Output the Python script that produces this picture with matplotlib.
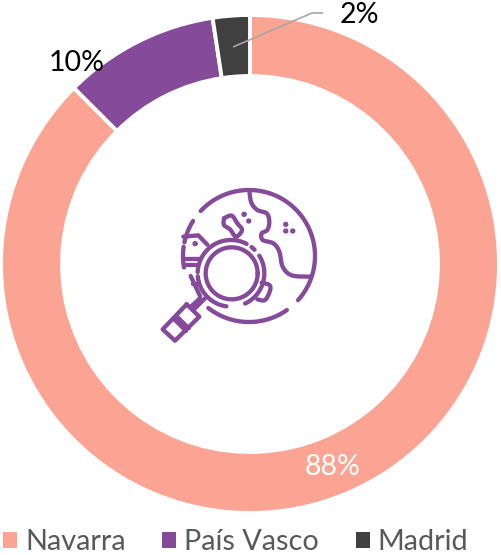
import numpy as np
import matplotlib
matplotlib.use("Agg")
import matplotlib.pyplot as plt

categories = ["Navarra", "País Vasco", "Madrid"]
values = [87.5, 10.1, 2.4]
labels = ["88%", "10%", "2%"]
colors = ["#FBA493", "#854A9A", "#404040"]

W, H = 501, 555
plt.rcParams["font.family"] = ["Lato", "DejaVu Sans"]
fig = plt.figure(figsize=(W / 100, H / 100), dpi=100)
ax = fig.add_axes([0, 0, 1, 1])


def Y(py):
    return H - py


wedges, _ = ax.pie(values, colors=colors, startangle=90, counterclock=False,
                   center=(250, Y(264)), radius=249,
                   wedgeprops=dict(width=61, edgecolor="white", linewidth=2.8))
ax.set_xlim(0, W)
ax.set_ylim(0, H)
ax.set_aspect("auto")
ax.axis("off")

# data labels
ax.text(333, Y(467), labels[0], color="white", fontsize=20.5, ha="center", va="center")
ax.text(77, Y(63), labels[1], color="black", fontsize=20.5, ha="center", va="center")
ax.text(359, Y(15), labels[2], color="black", fontsize=20.5, ha="center", va="center")
ax.plot([233, 312, 323], [Y(47), Y(13), Y(13)], color="#A6A6A6", lw=1.2,
        solid_capstyle="butt", zorder=5)

# legend
leg = ax.legend(wedges, categories, ncols=3, loc="lower left",
                bbox_to_anchor=(3 / W, 0.0), bbox_transform=ax.transAxes,
                frameon=False, fontsize=20.8, labelcolor="#595959",
                handlelength=0.48, handleheight=0.48, handletextpad=0.28,
                columnspacing=1.27, borderpad=0, borderaxespad=0)
for h in leg.legend_handles:
    h.set_edgecolor("none")
    h.set_linewidth(0)

# magnifier-over-globe icon (decoration, traced in zoomed crop coordinates)
ICON = "#854A9A"
LW = 3.1


def zx(x):
    return 150 + np.asarray(x, float) / 3


def zy(y):
    return Y(170 + np.asarray(y, float) / 3)


def path(pts):
    p = np.array(pts, float)
    ax.plot(zx(p[:, 0]), zy(p[:, 1]), color=ICON, lw=LW, solid_capstyle="round",
            solid_joinstyle="round", zorder=6)


def smooth(pts, n=12):
    p = np.array(pts, float)
    tt = np.linspace(0, len(p) - 1, n * (len(p) - 1) + 1)
    out = []
    P = np.vstack([p[0], p, p[-1]])
    for u in tt:
        i = min(int(u), len(p) - 2)
        s = u - i
        a, b, c, d = P[i], P[i + 1], P[i + 2], P[i + 3]
        out.append(0.5 * ((2 * b) + (c - a) * s + (2 * a - 5 * b + 4 * c - d) * s**2
                          + (3 * b - a - 3 * c + d) * s**3))
    path(out)


def arc(cx, cy, r, a0, a1):
    a = np.radians(np.linspace(a0, a1, 80))
    path(np.c_[cx + r * np.cos(a), cy - r * np.sin(a)])


def dot(x, y, r=5.5):
    arc(x, y, r * 0.25, 0, 360)


# globe outline
arc(297, 258, 198, 137, -42)
arc(297, 258, 198, -55, -128)
arc(297, 258, 198, 148, 168)
arc(297, 258, 198, 172, 190)
# coast right
smooth([(298, 62), (304, 98), (322, 120), (350, 130), (358, 155), (352, 180),
        (335, 190), (338, 210), (370, 220), (388, 245), (398, 290), (425, 316), (482, 320)])
# island
smooth([(222, 145), (245, 137), (262, 160), (276, 180), (258, 200), (240, 178), (222, 165), (222, 145)])
# left land
path([(100, 200), (145, 196), (172, 224)])
path([(104, 268), (150, 268)])
path([(108, 284), (138, 284)])
path([(128, 342), (142, 342)])
path([(122, 318), (150, 378)])
# lens
arc(245, 310, 78, 0, 360)
arc(243, 310, 100, 62, 178)
arc(243, 310, 100, 45, 52)
arc(243, 310, 100, 185, 262)
arc(243, 310, 100, -65, 32)
# land behind lens
smooth([(335, 338), (358, 345), (360, 362), (345, 390), (322, 388)])
# handle
path([(165, 385), (130, 420)])
path([(150, 385), (125, 408)])
path([(110, 403), (148, 440), (75, 512), (38, 478), (110, 403)])
path([(70, 445), (108, 483)])
path([(78, 437), (116, 475)])
# dots
for x, y in [(282, 133), (296, 153), (407, 163), (407, 183), (428, 183), (135, 221)]:
    dot(x, y)

fig.savefig("out.png", dpi=100)
